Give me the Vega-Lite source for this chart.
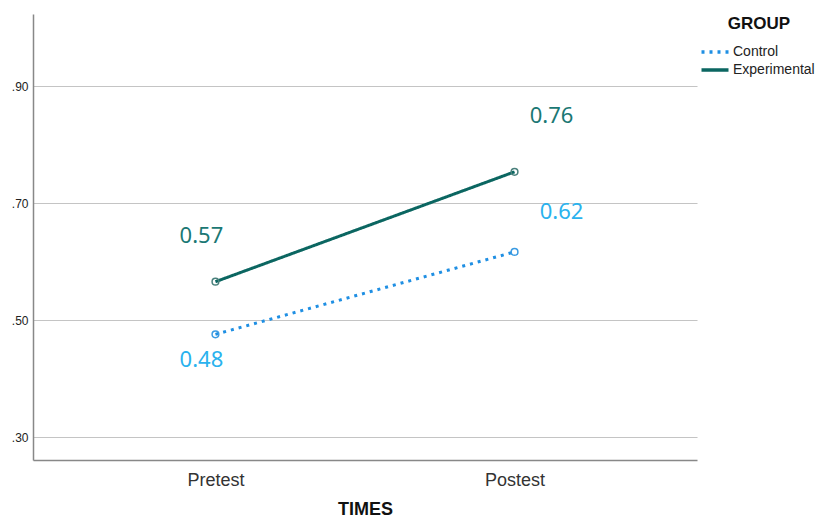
{
  "$schema": "https://vega.github.io/schema/vega-lite/v6.json",
  "autosize": "none",
  "width": 664,
  "height": 446,
  "padding": {"left": 33, "top": 14, "right": 124, "bottom": 66},
  "background": "white",
  "config": {
    "view": {"stroke": null},
    "font": "Liberation Sans"
  },
  "data": {
    "values": [
      {"TIMES": "Pretest", "GROUP": "Control", "Mean": 0.476, "label": "0.48"},
      {"TIMES": "Postest", "GROUP": "Control", "Mean": 0.617, "label": "0.62"},
      {"TIMES": "Pretest", "GROUP": "Experimental", "Mean": 0.566, "label": "0.57"},
      {"TIMES": "Postest", "GROUP": "Experimental", "Mean": 0.754, "label": "0.76"}
    ]
  },
  "encoding": {
    "x": {
      "field": "TIMES",
      "type": "nominal",
      "sort": ["Pretest", "Postest"],
      "scale": {"type": "point", "padding": 0.61},
      "axis": {
        "title": "TIMES",
        "titleFontSize": 18,
        "titleFontWeight": "bold",
        "titleColor": "#111",
        "titlePadding": 11,
        "labelAngle": 0,
        "labelFontSize": 18,
        "labelColor": "#333",
        "labelPadding": 11,
        "ticks": false,
        "domainColor": "#888",
        "domainWidth": 1.5,
        "grid": false
      }
    },
    "y": {
      "field": "Mean",
      "type": "quantitative",
      "scale": {"domain": [0.261, 1.024], "nice": false, "zero": false},
      "axis": {
        "title": null,
        "values": [0.3, 0.5, 0.7, 0.9],
        "labelExpr": "replace(format(datum.value, '.2f'), '0.', '.')",
        "labelFontSize": 12,
        "labelColor": "#222",
        "labelPadding": 5,
        "ticks": false,
        "domainColor": "#888",
        "domainWidth": 1.5,
        "gridColor": "#c4c4c4",
        "gridWidth": 1.2
      }
    }
  },
  "layer": [
    {
      "mark": {"type": "line", "strokeWidth": 3},
      "encoding": {
        "color": {
          "field": "GROUP",
          "type": "nominal",
          "scale": {"domain": ["Control", "Experimental"], "range": ["#1f8fe3", "#0b6661"]},
          "legend": {
            "title": "GROUP",
            "orient": "none",
            "legendX": 671,
            "legendY": 2,
            "titleFontSize": 17,
            "titleFontWeight": "bold",
            "titleColor": "#111",
            "titleAnchor": "middle",
            "titlePadding": 8,
            "labelFontSize": 14,
            "labelColor": "#222",
            "labelOffset": 7,
            "symbolType": "M-1.5,0H1.5",
            "symbolSize": 324,
            "symbolStrokeWidth": 3.5,
            "rowPadding": 0
          }
        },
        "strokeDash": {
          "field": "GROUP",
          "type": "nominal",
          "scale": {"domain": ["Control", "Experimental"], "range": [[3, 5], [1, 0]]},
          "legend": {"title": "GROUP"}
        }
      }
    },
    {
      "mark": {"type": "point", "shape": "circle", "filled": false, "size": 45, "strokeWidth": 1.5, "opacity": 1},
      "encoding": {
        "stroke": {
          "field": "GROUP",
          "type": "nominal",
          "scale": {"domain": ["Control", "Experimental"], "range": ["#3b9be2", "#4a807c"]},
          "legend": null
        }
      }
    },
    {
      "transform": [{"filter": "datum.GROUP == 'Experimental' && datum.TIMES == 'Pretest'"}],
      "mark": {"type": "text", "font": "Noto Sans", "fontSize": 22, "color": "#1b7874", "dx": -14, "dy": -46, "baseline": "middle"},
      "encoding": {"text": {"field": "label"}}
    },
    {
      "transform": [{"filter": "datum.GROUP == 'Experimental' && datum.TIMES == 'Postest'"}],
      "mark": {"type": "text", "font": "Noto Sans", "fontSize": 22, "color": "#1b7874", "dx": 37, "dy": -56, "baseline": "middle"},
      "encoding": {"text": {"field": "label"}}
    },
    {
      "transform": [{"filter": "datum.GROUP == 'Control' && datum.TIMES == 'Pretest'"}],
      "mark": {"type": "text", "font": "Noto Sans", "fontSize": 22, "color": "#2ab2ee", "dx": -14, "dy": 26, "baseline": "middle"},
      "encoding": {"text": {"field": "label"}}
    },
    {
      "transform": [{"filter": "datum.GROUP == 'Control' && datum.TIMES == 'Postest'"}],
      "mark": {"type": "text", "font": "Noto Sans", "fontSize": 22, "color": "#2ab2ee", "dx": 47, "dy": -40, "baseline": "middle"},
      "encoding": {"text": {"field": "label"}}
    }
  ]
}
